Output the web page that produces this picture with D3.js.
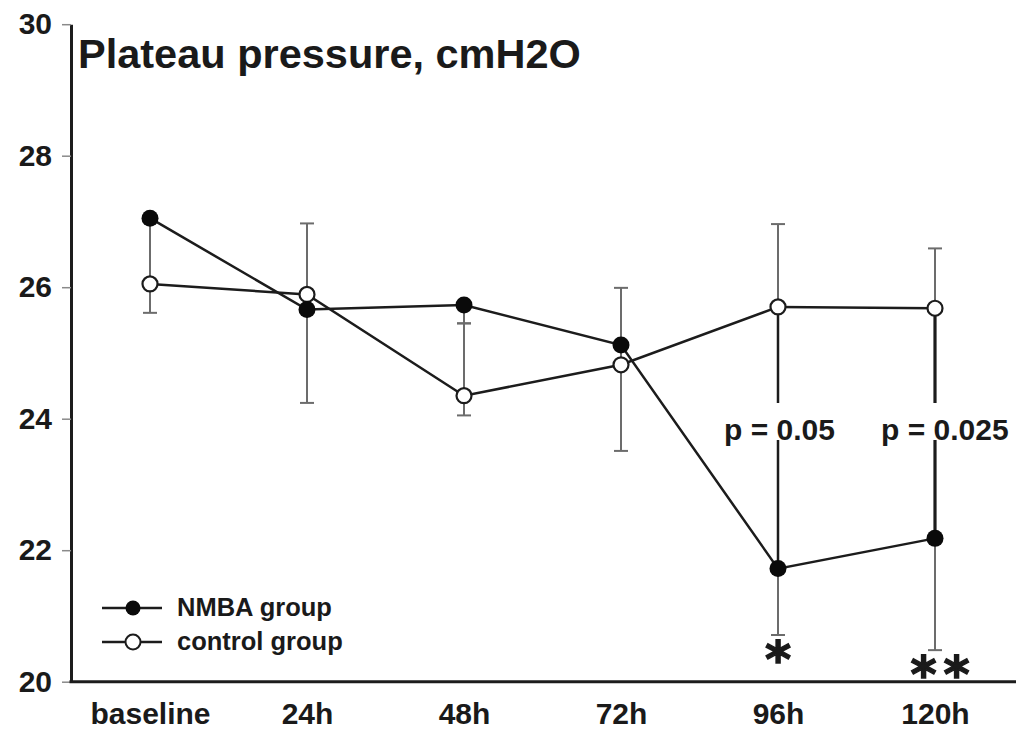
<!DOCTYPE html>
<html>
<head>
<meta charset="utf-8">
<script src="https://cdn.jsdelivr.net/npm/d3@7/dist/d3.min.js"></script>
<style>
  html, body { margin: 0; padding: 0; background: #fff; }
  svg { display: block; }
  text { font-family: "Liberation Sans", Arial, Helvetica, sans-serif; font-weight: bold; fill: #1a1a1a; }
</style>
</head>
<body>
<svg id="chart" width="1016" height="729"></svg>
<script>
// Plateau pressure (cmH2O) over the first 120 hours
const categories = ["baseline", "24h", "48h", "72h", "96h", "120h"];
const nmba = [27.05, 25.66, 25.73, 25.12, 21.72, 22.18];
const control = [26.05, 25.89, 24.35, 24.82, 25.70, 25.68];
// SD whiskers: NMBA drawn downward, control drawn upward (and downward where shown)
const nmbaSdDown = [1.44, 1.42, 0.28, 1.61, 1.01, 1.70];
const controlSdUp = [1.00, 1.08, 1.10, 1.17, 1.26, 0.91];
const controlSdDown = [null, null, 0.30, null, null, null];
// between-group comparison
const pLabels = [null, null, null, null, "p = 0.05", "p = 0.025"];
const stars = ["", "", "", "", "*", "**"];
const yTicks = [20, 22, 24, 26, 28, 30];
const title = "Plateau pressure, cmH2O";
const legendLabels = ["NMBA group", "control group"];

const svg = d3.select("#chart");
const W = 1016, H = 729;
const axisX = 71, axisY = 681.7, topY = 24.2;

const y = d3.scaleLinear().domain([20, 30]).range([axisY, topY]);
const x = d3.scalePoint().domain(categories).range([150, 935]);

const dark = "#1c1c1c";
const whisker = "#6c6c6c";
const r = 8.5;
const capHalf = 7;

// y axis
const gy = svg.append("g")
  .attr("transform", `translate(${axisX},0)`)
  .call(d3.axisLeft(y).tickValues(yTicks).tickFormat(d3.format("d"))
    .tickSize(9).tickSizeOuter(0).tickPadding(10));
gy.select(".domain").attr("stroke", dark).attr("stroke-width", 3);
gy.selectAll(".tick line").attr("stroke", "#8a8a8a").attr("stroke-width", 1.5);
gy.selectAll(".tick text")
  .attr("font-size", 30).attr("font-family", null).attr("fill", dark)
  .style("font-family", '"Liberation Sans", Arial, sans-serif').style("font-weight", "bold");

// x axis baseline + category labels
svg.append("line")
  .attr("x1", axisX - 1.5).attr("x2", W)
  .attr("y1", axisY).attr("y2", axisY)
  .attr("stroke", dark).attr("stroke-width", 3);
const gx = svg.append("g")
  .attr("transform", `translate(0,${axisY})`)
  .call(d3.axisBottom(x).tickSize(0).tickPadding(21));
gx.select(".domain").remove();
gx.selectAll(".tick text")
  .attr("font-size", 30).attr("fill", dark)
  .style("font-family", '"Liberation Sans", Arial, sans-serif').style("font-weight", "bold");

// title
svg.append("text")
  .attr("x", 78).attr("y", 68)
  .attr("font-size", 41.5)
  .text(title);

// whiskers
function whiskers(vals, sds, dir) {
  const data = categories.map((c, i) => ({ c, v: vals[i], sd: sds[i] })).filter(d => d.sd != null);
  const g = svg.append("g").attr("stroke", whisker).attr("stroke-width", 2);
  g.selectAll("line.bar").data(data).join("line")
    .attr("x1", d => x(d.c)).attr("x2", d => x(d.c))
    .attr("y1", d => y(d.v)).attr("y2", d => y(d.v + dir * d.sd));
  g.selectAll("line.cap").data(data).join("line")
    .attr("x1", d => x(d.c) - capHalf).attr("x2", d => x(d.c) + capHalf)
    .attr("y1", d => y(d.v + dir * d.sd)).attr("y2", d => y(d.v + dir * d.sd));
}
whiskers(nmba, nmbaSdDown, -1);
whiskers(control, controlSdUp, 1);
whiskers(control, controlSdDown, -1);

// significance bars between the groups, broken by the p-value label
const sig = categories.map((c, i) => ({ c, i, p: pLabels[i], s: stars[i] })).filter(d => d.p);
svg.append("g").selectAll("line").data(sig).join("line")
  .attr("x1", d => x(d.c)).attr("x2", d => x(d.c))
  .attr("y1", d => y(control[d.i])).attr("y2", d => y(nmba[d.i]))
  .attr("stroke", dark).attr("stroke-width", (d, k) => k === 0 ? 2.5 : 3.2);

const pBase = 440;
const pg = svg.append("g").selectAll("g").data(sig).join("g");
pg.append("rect")
  .attr("x", d => x(d.c) - 56).attr("y", pBase - 37)
  .attr("width", d => d.p.length * 16.5).attr("height", 37)
  .attr("fill", "#fff");
pg.append("text")
  .attr("x", d => x(d.c) - 54).attr("y", pBase)
  .attr("font-size", 30)
  .text(d => d.p);

// asterisks below the NMBA whiskers (small glyph box, scaled up around its centre)
const starData = [];
sig.forEach(d => {
  const n = d.s.length;
  const capY = y(nmba[d.i] - nmbaSdDown[d.i]);
  d.s.split("").forEach((ch, k) => {
    starData.push({ ch, cx: x(d.c) + (n > 1 ? 5 : 0) + (k - (n - 1) / 2) * 33, cy: capY + 14 });
  });
});
svg.append("g").selectAll("text").data(starData).join("text")
  .attr("transform", d => `translate(${d.cx},${d.cy}) scale(1.667)`)
  .attr("text-anchor", "middle")
  .attr("dy", "0.56em")
  .attr("font-size", 30)
  .attr("stroke", "#1a1a1a").attr("stroke-width", 0.8)
  .style("font-family", '"DejaVu Sans", sans-serif')
  .text(d => d.ch);

// series lines and markers
const line = d3.line().x((d, i) => x(categories[i])).y(d => y(d));
svg.append("path").datum(control).attr("d", line)
  .attr("fill", "none").attr("stroke", dark).attr("stroke-width", 2.5);
svg.append("path").datum(nmba).attr("d", line)
  .attr("fill", "none").attr("stroke", dark).attr("stroke-width", 2.5);

svg.append("g").selectAll("circle").data(control).join("circle")
  .attr("cx", (d, i) => x(categories[i])).attr("cy", d => y(d)).attr("r", r - 1)
  .attr("fill", "#fff").attr("stroke", dark).attr("stroke-width", 2.2);
svg.append("g").selectAll("circle").data(nmba).join("circle")
  .attr("cx", (d, i) => x(categories[i])).attr("cy", d => y(d)).attr("r", r)
  .attr("fill", "#0a0a0a");

// legend
const lg = svg.append("g").selectAll("g").data(legendLabels).join("g")
  .attr("transform", (d, i) => `translate(0,${608 + i * 34})`);
lg.append("line").attr("x1", 102).attr("x2", 162).attr("y1", 0).attr("y2", 0)
  .attr("stroke", dark).attr("stroke-width", 2.5);
lg.append("circle").attr("cx", 133).attr("cy", 0).attr("r", 7.5)
  .attr("fill", (d, i) => i === 0 ? "#0a0a0a" : "#fff")
  .attr("stroke", dark).attr("stroke-width", (d, i) => i === 0 ? 0 : 2);
lg.append("text").attr("x", 177).attr("y", 8).attr("font-size", 25.5).text(d => d);
</script>
</body>
</html>
